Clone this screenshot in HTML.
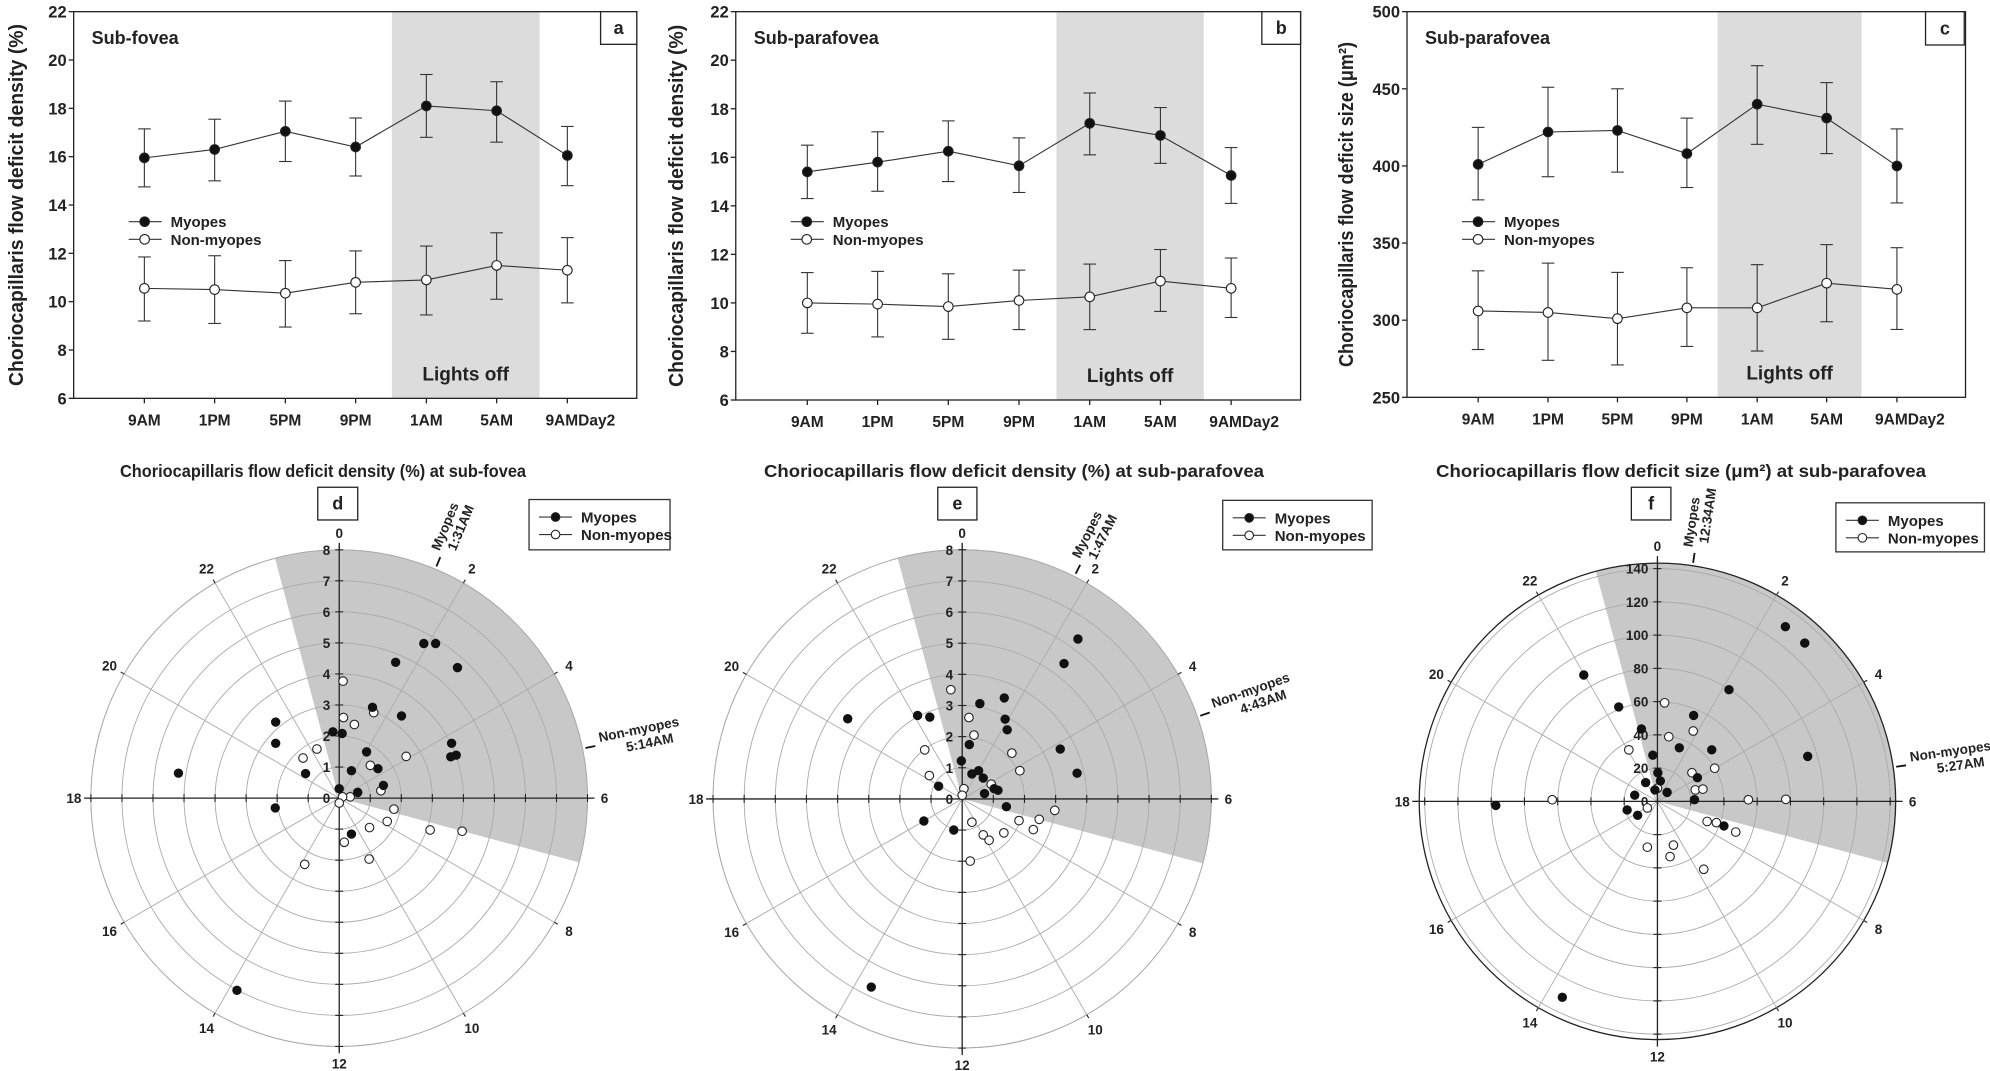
<!DOCTYPE html>
<html><head><meta charset="utf-8"><style>
html,body{margin:0;padding:0;background:#fff;}
svg{display:block;font-family:"Liberation Sans",Arial,sans-serif;}
</style></head><body>
<svg id="s" width="1990" height="1071" viewBox="0 0 1990 1071" xmlns="http://www.w3.org/2000/svg"></svg>
<script>
const KX=1/2.376;
let out='';
function lineChart(ox,oy,c){
  const kx=KX,ky=1/3.0;
  const X=z=>ox+z*kx, Yz=z=>oy+z*ky;
  const L=X(c.L),R=X(c.R),T=Yz(c.T),B=Yz(c.B);
  let s='';
  const Y=v=>B-(v-c.ymin)/(c.ymax-c.ymin)*(B-T);
  s+=`<rect x="${X(c.shade[0])}" y="${T}" width="${(c.shade[1]-c.shade[0])*kx}" height="${B-T}" fill="#dcdcdc"/>`;
  s+=`<rect x="${L}" y="${T}" width="${R-L}" height="${B-T}" fill="none" stroke="#222" stroke-width="1.3"/>`;
  for(let v=c.ymin;v<=c.ymax;v+=c.step){const y=Y(v);
    s+=`<line x1="${L-5}" x2="${L}" y1="${y}" y2="${y}" stroke="#222" stroke-width="1.3"/>`;
    s+=`<text x="${L-7}" y="${y+6}" text-anchor="end" font-size="16.5" font-weight="bold" fill="#222">${v}</text>`;}
  const labs=['9AM','1PM','5PM','9PM','1AM','5AM','9AMDay2'];
  c.xs.forEach((z,i)=>{const x=X(z);s+=`<line x1="${x}" x2="${x}" y1="${B}" y2="${B+5}" stroke="#222" stroke-width="1.3"/>`;
    s+=`<text x="${x+(i==6?13:0)}" y="${B+27}" text-anchor="middle" font-size="15.5" font-weight="bold" fill="#222">${labs[i]}</text>`;});
  const my=(T+B)/2, tx=ox+23;
  s+=`<text x="${tx}" y="${my}" transform="rotate(-90 ${tx} ${my})" text-anchor="middle" font-size="20" font-weight="bold" fill="#222" textLength="${c.tl}" lengthAdjust="spacingAndGlyphs">${c.yt}</text>`;
  s+=`<rect x="${X(c.box[0])}" y="${T}" width="${(c.box[1]-c.box[0])*kx}" height="${Yz(c.box[2])-T}" fill="#fff" stroke="#222" stroke-width="1.3"/>`;
  s+=`<text x="${X((c.box[0]+c.box[1])/2)}" y="${(T+Yz(c.box[2]))/2+6}" text-anchor="middle" font-size="18" font-weight="bold" fill="#222">${c.letter}</text>`;
  s+=`<text x="${L+18}" y="${oy+44}" font-size="18" font-weight="bold" fill="#222">${c.title}</text>`;
  s+=`<text x="${X((c.shade[0]+c.shade[1])/2)}" y="${B-18}" text-anchor="middle" font-size="19" font-weight="bold" fill="#222">Lights off</text>`;
  [c.my,c.nm].forEach((d,k)=>{
    let p=d.map((q,i)=>`${X(c.xs[i])},${Y(q[0])}`).join(' ');
    s+=`<polyline points="${p}" fill="none" stroke="#333" stroke-width="1.1"/>`;
    d.forEach((q,i)=>{const x=X(c.xs[i]);
      s+=`<line x1="${x}" x2="${x}" y1="${Y(q[1])}" y2="${Y(q[2])}" stroke="#333" stroke-width="1.1"/>`;
      s+=`<line x1="${x-6.3}" x2="${x+6.3}" y1="${Y(q[1])}" y2="${Y(q[1])}" stroke="#333" stroke-width="1.1"/>`;
      s+=`<line x1="${x-6.3}" x2="${x+6.3}" y1="${Y(q[2])}" y2="${Y(q[2])}" stroke="#333" stroke-width="1.1"/>`;});
    d.forEach((q,i)=>{s+=`<circle cx="${X(c.xs[i])}" cy="${Y(q[0])}" r="4.8" fill="${k?'#fff':'#111'}" stroke="#222" stroke-width="1.1"/>`;});
  });
  [[665,'#111','Myopes'],[718,'#fff','Non-myopes']].forEach(l=>{const y=Yz(l[0]);
    s+=`<line x1="${L+55}" x2="${L+88}" y1="${y}" y2="${y}" stroke="#333" stroke-width="1.1"/>`;
    s+=`<circle cx="${L+71}" cy="${y}" r="4.8" fill="${l[1]}" stroke="#222" stroke-width="1.1"/>`;
    s+=`<text x="${L+97}" y="${y+5.5}" font-size="15" font-weight="bold" fill="#222">${l[2]}</text>`;});
  out+=s;
}
const labsY1='Choriocapillaris flow deficit density (%)';
lineChart(0,0,{L:175,T:35,B:1195,R:1513,xs:[343,510,678,845,1013,1180,1348],ymin:6,ymax:22,step:2,shade:[931,1282],box:[1427,1513,133],letter:'a',title:'Sub-fovea',yt:labsY1,tl:362,
 my:[[15.95,14.75,17.15],[16.3,15.0,17.55],[17.05,15.8,18.3],[16.4,15.2,17.6],[18.1,16.8,19.4],[17.9,16.6,19.1],[16.05,14.8,17.25]],
 nm:[[10.55,9.2,11.85],[10.5,9.1,11.9],[10.35,8.95,11.7],[10.8,9.5,12.1],[10.9,9.45,12.3],[11.5,10.1,12.85],[11.3,9.95,12.65]]});
lineChart(660,0,{L:180,T:35,B:1200,R:1522,xs:[350,517,685,853,1021,1189,1357],ymin:6,ymax:22,step:2,shade:[942,1292],box:[1430,1522,133],letter:'b',title:'Sub-parafovea',yt:labsY1,tl:362,
 my:[[15.4,14.3,16.5],[15.8,14.6,17.05],[16.25,15.0,17.5],[15.65,14.55,16.8],[17.4,16.1,18.65],[16.9,15.75,18.05],[15.25,14.1,16.4]],
 nm:[[10.0,8.75,11.25],[9.95,8.6,11.3],[9.85,8.5,11.2],[10.1,8.9,11.35],[10.25,8.9,11.6],[10.9,9.65,12.2],[10.6,9.4,11.85]]});
lineChart(1330,0,{L:183,T:35,B:1192,R:1510,xs:[352,518,683,848,1015,1180,1347],ymin:250,ymax:500,step:50,shade:[921,1263],box:[1415,1507,135],letter:'c',title:'Sub-parafovea',yt:'Choriocapillaris flow deficit size (μm²)',tl:325,
 my:[[401,378,425],[422,393,451],[423,396,450],[408,386,431],[440,414,465],[431,408,454],[400,376,424]],
 nm:[[306,281,332],[305,274,337],[301,271,331],[308,283,334],[308,280,336],[324,299,349],[320,294,347]]});

function polar(ox,oy,c){
  const kx=KX,ky=0.409;
  const X=z=>ox+z*kx, Yz=z=>oy+z*ky;
  let s='';
  const cx=X(c.cx),cy=Yz(c.cy),R=c.R*kx,sc=c.sc*kx;
  const P=(r,deg)=>[cx+r*Math.sin(deg*Math.PI/180),cy-r*Math.cos(deg*Math.PI/180)];
  const a=P(R,-15),b=P(R,105);
  s+=`<path d="M${cx},${cy} L${a[0]},${a[1]} A${R},${R} 0 0 1 ${b[0]},${b[1]} Z" fill="#c8c8c8"/>`;
  for(let v=c.step;v<=c.max+1e-6;v+=c.step){s+=`<circle cx="${cx}" cy="${cy}" r="${v*sc}" fill="none" stroke="#aaa" stroke-width="0.9"/>`;}
  s+=`<circle cx="${cx}" cy="${cy}" r="${R}" fill="none" stroke="${c.outerBlack?'#222':'#aaa'}" stroke-width="${c.outerBlack?1.3:0.9}"/>`;
  for(let h=0;h<24;h+=2){const d=h*15;const e=P(R,d),e2=P(R+4,d),l=P(R+17,d);
    if(h%6) s+=`<line x1="${cx}" y1="${cy}" x2="${e[0]}" y2="${e[1]}" stroke="#aaa" stroke-width="0.9"/>`;
    s+=`<line x1="${e[0]}" y1="${e[1]}" x2="${e2[0]}" y2="${e2[1]}" stroke="#222" stroke-width="1.1"/>`;
    s+=`<text x="${l[0]}" y="${l[1]+5}" text-anchor="middle" font-size="13.5" font-weight="bold" fill="#222">${h}</text>`;}
  const E=R+7;
  s+=`<line x1="${cx-E}" x2="${cx+E}" y1="${cy}" y2="${cy}" stroke="#222" stroke-width="1.3"/>`;
  s+=`<line x1="${cx}" x2="${cx}" y1="${cy-E}" y2="${cy+E}" stroke="#222" stroke-width="1.3"/>`;
  for(let v=c.step;v*sc<=R+1;v+=c.step){const r=v*sc;
    [cx+r,cx-r].forEach(x=>{s+=`<line x1="${x}" x2="${x}" y1="${cy-4}" y2="${cy+4}" stroke="#222" stroke-width="1.1"/>`;});
    [cy+r,cy-r].forEach(y=>{s+=`<line x1="${cx-4}" x2="${cx+4}" y1="${y}" y2="${y}" stroke="#222" stroke-width="1.1"/>`;});}
  for(let v=0;v<=c.max+1e-6;v+=c.step){s+=`<text x="${cx-9}" y="${cy-v*sc+5}" text-anchor="end" font-size="13.5" font-weight="bold" fill="#222">${v}</text>`;}
  c.an.forEach(n=>{const d=n[0]*15;const t1=P(R+3,d),t2=P(R+13,d);
    s+=`<line x1="${t1[0]}" y1="${t1[1]}" x2="${t2[0]}" y2="${t2[1]}" stroke="#111" stroke-width="1.8"/>`;
    s+=`<g transform="translate(${cx},${cy}) rotate(${d-90})"><text font-size="13.5" font-weight="bold" fill="#222"><tspan x="${R+18}" y="-3">${n[1]}</tspan><tspan x="${R+18+n[3]}" y="12">${n[2]}</tspan></text></g>`;});
  s+=`<text x="${c.tx}" y="477" text-anchor="middle" font-size="17.5" font-weight="bold" fill="#222" textLength="${c.tl}" lengthAdjust="spacingAndGlyphs">${c.title}</text>`;
  s+=`<rect x="${X(c.lb[0])}" y="${Yz(140)}" width="${(c.lb[1]-c.lb[0])*kx}" height="${80*ky}" fill="#fff" stroke="#222" stroke-width="1.3"/>`;
  s+=`<text x="${X((c.lb[0]+c.lb[1])/2)}" y="${Yz(180)+6}" text-anchor="middle" font-size="18" font-weight="bold" fill="#222">${c.letter}</text>`;
  const g=c.lg, gx=X(g[0]), gy=Yz(g[1]);
  s+=`<rect x="${gx}" y="${gy}" width="${(g[2]-g[0])*kx}" height="${(g[3]-g[1])*ky}" fill="#fff" stroke="#333" stroke-width="1.3"/>`;
  [[gy+17.5,'#111','Myopes'],[gy+35,'#fff','Non-myopes']].forEach(l=>{
    s+=`<line x1="${gx+10}" x2="${gx+43}" y1="${l[0]}" y2="${l[0]}" stroke="#333" stroke-width="1.1"/>`;
    s+=`<circle cx="${gx+26.5}" cy="${l[0]}" r="4.3" fill="${l[1]}" stroke="#222" stroke-width="1.1"/>`;
    s+=`<text x="${gx+52}" y="${l[0]+5.5}" font-size="15" font-weight="bold" fill="#222">${l[2]}</text>`;});
  c.nm.forEach(p=>{s+=`<circle cx="${X(p[0])}" cy="${Yz(p[1])}" r="4.3" fill="#fff" stroke="#222" stroke-width="1.1"/>`;});
  c.my.forEach(p=>{s+=`<circle cx="${X(p[0])}" cy="${Yz(p[1])}" r="4.3" fill="#111" stroke="#111" stroke-width="0.8"/>`;});
  out+=s;
}
polar(0,430,{cx:806,cy:900,R:590,max:8,step:1,sc:73.75,outerBlack:false,
 title:'Choriocapillaris flow deficit density (%) at sub-fovea',tx:323,tl:406,letter:'d',lb:[755,850],lg:[1257,170,1592,293],
 an:[[1.517,'Myopes','1:31AM',6],[5.233,'Non-myopes','5:14AM',25]],
 my:[[1007,522],[1035,522],[1087,581],[940,568],[885,678],[954,699],[791,738],[813,742],[871,787],[835,833],[898,828],[911,869],[806,877],[850,886],[1073,766],[1071,799],[1084,795],[655,714],[655,766],[726,840],[424,839],[654,924],[835,988],[563,1370]],
 nm:[[815,614],[816,703],[842,720],[888,691],[753,780],[720,802],[965,798],[880,820],[905,882],[832,897],[814,897],[806,912],[936,927],[920,957],[878,972],[1022,978],[1098,981],[818,1008],[877,1049],[724,1062]]});
polar(660,430,{cx:718,cy:902,R:592,max:8,step:1,sc:74,outerBlack:false,
 title:'Choriocapillaris flow deficit density (%) at sub-parafovea',tx:1014,tl:500,letter:'e',lb:[660,753],lg:[1337,172,1692,293],
 an:[[1.783,'Myopes','1:47AM',6],[4.717,'Non-myopes','4:43AM',25]],
 my:[[993,511],[960,571],[951,780],[991,839],[818,655],[820,707],[825,733],[760,669],[735,769],[716,809],[741,841],[757,833],[768,851],[794,877],[803,881],[771,889],[823,921],[612,698],[641,702],[446,706],[662,871],[627,956],[698,978],[502,1362]],
 nm:[[691,635],[734,703],[746,746],[836,790],[855,833],[629,782],[640,845],[722,877],[718,893],[787,866],[938,930],[901,952],[853,955],[887,977],[817,985],[741,959],[768,990],[782,1003],[737,1054]]});
polar(1330,430,{cx:778,cy:908,R:566,max:140,step:20,sc:3.95,outerBlack:true,
 title:'Choriocapillaris flow deficit size (μm²) at sub-parafovea',tx:1681,tl:490,letter:'f',lb:[716,810],lg:[1202,178,1555,298],
 an:[[0.567,'Myopes','12:34AM',6],[5.45,'Non-myopes','5:27AM',25]],
 my:[[1082,481],[1128,521],[948,635],[1135,798],[907,782],[864,698],[830,777],[873,850],[603,599],[686,677],[740,731],[767,795],[779,838],[785,858],[750,862],[772,880],[801,886],[866,904],[724,893],[706,929],[731,942],[936,968],[394,918],[552,1387]],
 nm:[[795,667],[805,750],[863,736],[710,782],[860,838],[914,827],[778,876],[868,880],[886,878],[994,904],[1083,903],[528,904],[754,924],[896,957],[918,960],[964,983],[754,1020],[816,1015],[808,1043],[888,1074]]});
document.getElementById('s').innerHTML=out;
</script>
</body></html>
